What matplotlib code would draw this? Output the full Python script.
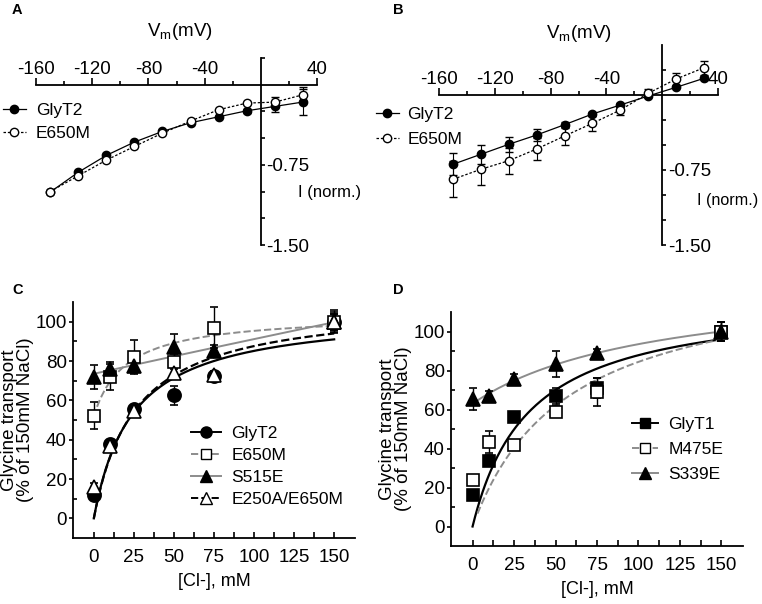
import numpy as np
import matplotlib
matplotlib.use('Agg')
from matplotlib import pyplot as plt
from matplotlib.lines import Line2D
from matplotlib.ticker import FixedLocator, FormatStrFormatter

plt.rcParams['font.family'] = ['Liberation Sans', 'DejaVu Sans']
plt.rcParams['mathtext.fontset'] = 'custom'
plt.rcParams['mathtext.rm'] = 'Liberation Sans'
plt.rcParams['axes.unicode_minus'] = False

# ---- data: panels A and B (I-V curves) ----
vm = [-150, -130, -110, -90, -70, -50, -30, -10, 10, 30]

a_glyt2 = [-1.006, -0.82, -0.662, -0.537, -0.437, -0.356, -0.30, -0.244, -0.203, -0.162]
a_glyt2_err = [0, 0, 0, 0, 0, 0, 0, 0.02, 0.05, 0.12]
a_e650m = [-1.0, -0.853, -0.706, -0.578, -0.453, -0.34, -0.234, -0.172, -0.163, -0.094]
a_e650m_err = [0, 0, 0, 0, 0, 0, 0, 0.01, 0.05, 0.07]

b_glyt2 = [-0.693, -0.593, -0.493, -0.40, -0.297, -0.19, -0.10, -0.01, 0.077, 0.167]
b_glyt2_err = [0.11, 0.093, 0.077, 0.06, 0.03, 0.02, 0.02, 0.01, 0.0, 0.0]
b_e650m = [-0.843, -0.743, -0.657, -0.54, -0.41, -0.283, -0.15, 0.017, 0.16, 0.273]
b_e650m_err = [0.18, 0.16, 0.13, 0.11, 0.09, 0.077, 0.05, 0.04, 0.06, 0.07]

# ---- data: panels C and D (chloride dependence) ----
cl = [0, 10, 25, 50, 75, 150]

c_glyt2 = [11.7, 38, 55.7, 62.5, 72.5, 100]
c_glyt2_err = [2, 2, 2, 5, 2, 4]
c_e650m = [52.2, 71.8, 82, 79.7, 97, 100]
c_e650m_err = [7, 6.5, 8.6, 4, 10.5, 6]
c_s515e = [72, 76, 77.5, 87, 85, 100]
c_s515e_err = [6, 3.5, 3.5, 6.5, 3, 5]
c_e250a = [16, 36.6, 54.7, 74, 73, 100]
c_e250a_err = [2, 2, 2, 3, 2, 4]

d_glyt1 = [15.9, 33.8, 56.3, 67, 71, 100]
d_glyt1_err = [2, 3, 2, 4, 5, 5]
d_m475e = [23.9, 43.2, 42, 58.9, 69, 100]
d_m475e_err = [2, 5.6, 2, 3, 7, 5]
d_s339e = [65.4, 67, 75.6, 83.3, 89.2, 100]
d_s339e_err = [5.8, 2.5, 2.5, 6.8, 2, 5]

# fit parameters (offset, amplitude, K, start)
fit_c = {'GlyT2': (0, 105.5, 23.9, 0), 'E650M': (52, 52, 20, 2),
         'S515E': (73.5, 900, 5000, 0), 'E250A/E650M': (0, 110.1, 25.7, 0)}
fit_d = {'GlyT1': (0, 117.9, 34.2, 0), 'M475E': (0, 132.3, 56.7, 3),
         'S339E': (63, 64.4, 111, 0)}

W, H = 762, 604
fig = plt.figure(figsize=(W / 100, H / 100), dpi=100)
dots = (0, (2, 1.5))


def px_axes(l, t, r, b):
	return fig.add_axes([l / W, 1 - b / H, (r - l) / W, (b - t) / H])


def iv_panel(ax, y1, e1, y2, e2, ymax):
	ax.set_xlim(-160, 40)
	ax.set_ylim(-1.5, ymax)
	ax.spines['bottom'].set_visible(False)
	ax.spines['left'].set_visible(False)
	ax.spines['top'].set_position(('data', 0))
	ax.spines['right'].set_position(('data', 0))
	for s in ('top', 'right'):
		ax.spines[s].set_linewidth(1.3)
	ax.xaxis.tick_top()
	ax.yaxis.tick_right()
	ax.xaxis.set_major_locator(FixedLocator([-160, -120, -80, -40, 40]))
	ax.xaxis.set_minor_locator(FixedLocator([-140, -100, -60, -20, 20]))
	ax.yaxis.set_major_locator(FixedLocator([-1.5, -0.75]))
	minors = [-1.25, -1.0, -0.5, -0.25, 0.25]
	ax.yaxis.set_minor_locator(FixedLocator([m for m in minors if m <= ymax]))
	ax.yaxis.set_major_formatter(FormatStrFormatter('%.2f'))
	ax.tick_params(which='major', direction='out', length=5, width=1.2, labelsize=13.5)
	ax.tick_params(axis='x', which='major', pad=0)
	ax.tick_params(axis='y', which='major', length=3, pad=1)
	ax.tick_params(which='minor', direction='out', length=3, width=1.2)
	ax.patch.set_visible(False)
	ax.errorbar(vm, y1, yerr=e1, color='black', lw=0.9, marker='o', ms=6,
		mfc='black', mec='black', capsize=3, elinewidth=0.8, zorder=3)
	ax.errorbar(vm, y2, yerr=e2, color='black', lw=0.9, ls=dots, marker='o', ms=6,
		mfc='white', mec='black', capsize=3, elinewidth=0.8, zorder=3)


def hyper(x, p):
	a, b, k, x0 = p
	xs = np.linspace(x0, x[-1], 200)
	return xs, a + b * xs / (k + xs)


def cl_panel(ax):
	ax.set_xlim(-13, 163)
	ax.set_ylim(-10, 110)
	ax.spines['top'].set_visible(False)
	ax.spines['right'].set_visible(False)
	for s in ('left', 'bottom'):
		ax.spines[s].set_linewidth(1.3)
	ax.set_xticks([0, 25, 50, 75, 100, 125, 150])
	ax.set_xticks(np.arange(12.5, 150, 25), minor=True)
	ax.set_yticks([0, 20, 40, 60, 80, 100])
	ax.set_yticks([10, 30, 50, 70, 90], minor=True)
	ax.tick_params(axis='x', which='both', direction='in', length=4, width=1.2)
	ax.tick_params(axis='y', which='major', direction='out', length=3, width=1.2)
	ax.tick_params(axis='y', which='minor', direction='in', length=3, width=1.2)
	ax.tick_params(which='major', labelsize=13.5)
	ax.tick_params(axis='x', which='major', pad=8)
	ax.tick_params(axis='y', which='major', pad=1.5)
	ax.set_xlabel('[Cl-], mM', fontsize=13, labelpad=5)
	ax.set_ylabel('Glycine transport\n(% of 150mM NaCl)', fontsize=13.5, labelpad=1, linespacing=0.95)


# ---- panel A ----
axA = px_axes(36, 58, 317, 245)
iv_panel(axA, a_glyt2, a_glyt2_err, a_e650m, a_e650m_err, 0.25)
fig.text(180 / W, 1 - 32 / H, r'V$_{\mathrm{m}}$(mV)', fontsize=13.5, ha='center', va='center')
fig.text(298 / W, 1 - 193 / H, 'I (norm.)', fontsize=12, ha='left', va='center')
hA = [Line2D([], [], color='black', lw=0.9, marker='o', ms=6, mfc='black'),
	Line2D([], [], color='black', lw=0.9, ls=dots, marker='o', ms=6, mfc='white', mec='black')]
fig.legend(hA, ['GlyT2', 'E650M'], loc='upper left', bbox_to_anchor=(3 / W, 1 - 103 / H),
	frameon=False, fontsize=12.5, handlelength=1.3, handletextpad=0.6, labelspacing=0.45,
	borderpad=0, borderaxespad=0)

# ---- panel B ----
axB = px_axes(439, 45, 718, 245)
iv_panel(axB, b_glyt2, b_glyt2_err, b_e650m, b_e650m_err, 0.5)
fig.text(579 / W, 1 - 33 / H, r'V$_{\mathrm{m}}$(mV)', fontsize=13.5, ha='center', va='center')
fig.text(697 / W, 1 - 200 / H, 'I (norm.)', fontsize=11.6, ha='left', va='center')
fig.legend(hA, ['GlyT2', 'E650M'], loc='upper left', bbox_to_anchor=(376 / W, 1 - 107 / H),
	frameon=False, fontsize=12.5, handlelength=1.3, handletextpad=0.5, labelspacing=0.55,
	borderpad=0, borderaxespad=0)

# ---- panel C ----
axC = px_axes(73, 302, 355, 538)
cl_panel(axC)
gray = '#8c8c8c'
styles_c = [
	('GlyT2', c_glyt2, c_glyt2_err, 'o', 'black', 'black', '-', 9.5),
	('E650M', c_e650m, c_e650m_err, 's', 'white', gray, '--', 8.5),
	('S515E', c_s515e, c_s515e_err, '^', 'black', gray, '-', 10),
	('E250A/E650M', c_e250a, c_e250a_err, '^', 'white', 'black', '--', 10),
]
hC = []
for name, y, e, m, fc, lc, ls, ms in styles_c:
	xs, ys = hyper(cl, fit_c[name])
	axC.plot(xs, ys, color=lc, ls=ls, lw=1.6 if lc == 'black' else 1.4, zorder=2)
	axC.errorbar(cl, y, yerr=e, fmt=m, ms=ms, mfc=fc, mec='black', mew=1.2,
		ecolor='black', elinewidth=1, capsize=3, zorder=3)
	hC.append(Line2D([], [], color=lc, ls=ls, lw=1.4, marker=m, ms=ms - 1.5 if m != 's' else 7,
		mfc=fc, mec='black'))
axC.legend(hC, [s[0] for s in styles_c], loc='upper left', bbox_to_anchor=(0.42, 0.475),
	frameon=False, fontsize=12.5, handlelength=1.7, handletextpad=0.6, labelspacing=0.4,
	borderpad=0, borderaxespad=0)

# ---- panel D ----
axD = px_axes(451, 312, 743, 546)
cl_panel(axD)
styles_d = [
	('GlyT1', d_glyt1, d_glyt1_err, 's', 'black', 'black', '-', 9),
	('M475E', d_m475e, d_m475e_err, 's', 'white', gray, '--', 9),
	('S339E', d_s339e, d_s339e_err, '^', 'black', gray, '-', 10),
]
hD = []
for name, y, e, m, fc, lc, ls, ms in styles_d:
	xs, ys = hyper(cl, fit_d[name])
	axD.plot(xs, ys, color=lc, ls=ls, lw=1.6 if lc == 'black' else 1.4, zorder=2)
	axD.errorbar(cl, y, yerr=e, fmt=m, ms=ms, mfc=fc, mec='black', mew=1.2,
		ecolor='black', elinewidth=1, capsize=3, zorder=3)
	hD.append(Line2D([], [], color=lc, ls=ls, lw=1.4, marker=m, ms=ms - 1.5, mfc=fc, mec='black'))
axD.legend(hD, [s[0] for s in styles_d], loc='upper left', bbox_to_anchor=(0.62, 0.55),
	frameon=False, fontsize=12.5, handlelength=1.5, handletextpad=0.6, labelspacing=0.55,
	borderpad=0, borderaxespad=0)

# panel letters
for letter, x, y in [('A', 12, 10), ('B', 393, 10), ('C', 12, 290), ('D', 393, 290)]:
	fig.text(x / W, 1 - y / H, letter, fontsize=10.5, fontweight='bold', ha='left', va='center')

fig.savefig('out.png', dpi=100)
